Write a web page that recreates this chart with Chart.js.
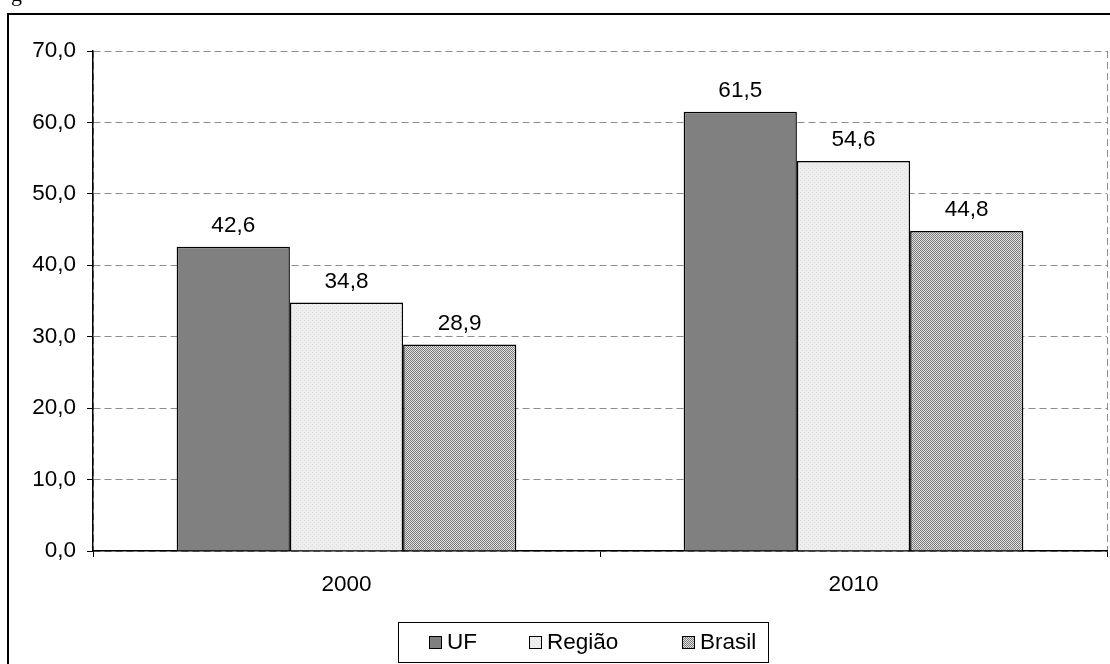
<!DOCTYPE html>
<html>
<head>
<meta charset="utf-8">
<script src="https://cdn.jsdelivr.net/npm/chart.js@4/dist/chart.umd.min.js"></script>
<style>
  html, body { margin: 0; padding: 0; background: #fff; }
  #wrap { position: relative; width: 1110px; height: 664px; }
  canvas { display: block; }
</style>
</head>
<body>
<div id="wrap"><canvas id="c" width="1110" height="664"></canvas></div>
<script>
// Categories and series
const years = ['2000', '2010'];
const seriesNames = ['UF', 'Região', 'Brasil'];
const ufValues = [42.6, 61.5];
const regiaoValues = [34.8, 54.6];
const brasilValues = [28.9, 44.8];
const yMin = 0, yMax = 70, yStep = 10;

const FONT = '"Liberation Sans", Arial, sans-serif';
const FONT_SIZE = 22.5;

function fmt(v) { return v.toFixed(1).replace('.', ','); }

// Fill patterns for the light and hatched series
function makePattern(size, draw) {
  const c = document.createElement('canvas');
  c.width = size; c.height = size;
  const g = c.getContext('2d');
  draw(g);
  return g.createPattern(c, 'repeat');
}
const dotted = makePattern(4, g => {
  g.fillStyle = '#eeeeee'; g.fillRect(0, 0, 4, 4);
  g.fillStyle = '#dcdcdc'; g.fillRect(0, 0, 1, 1); g.fillRect(2, 2, 1, 1);
});
const checked = makePattern(2, g => {
  g.fillStyle = '#e2e2e2'; g.fillRect(0, 0, 2, 2);
  g.fillStyle = '#7a7a7a'; g.fillRect(0, 0, 1, 1); g.fillRect(1, 1, 1, 1);
});
const fills = ['#808080', dotted, checked];

// Outer frame and the clipped caption glyph
const framePlugin = {
  id: 'frame',
  beforeDraw(chart) {
    const g = chart.ctx;
    g.save();
    g.fillStyle = '#fff';
    g.fillRect(0, 0, chart.width, chart.height);
    g.strokeStyle = '#000';
    g.lineWidth = 2;
    g.beginPath();
    g.moveTo(8, chart.height + 2);
    g.lineTo(8, 14);
    g.lineTo(chart.width + 2, 14);
    g.stroke();
    g.fillStyle = '#000';
    g.font = '22px "Liberation Serif", "Times New Roman", serif';
    g.textBaseline = 'alphabetic';
    g.fillText('g', 11, 1);
    g.restore();
  }
};

// Value labels above every bar
const valueLabels = {
  id: 'valueLabels',
  afterDatasetsDraw(chart) {
    const g = chart.ctx;
    g.save();
    g.fillStyle = '#000';
    g.font = FONT_SIZE + 'px ' + FONT;
    g.textAlign = 'center';
    g.textBaseline = 'middle';
    chart.data.datasets.forEach((ds, di) => {
      chart.getDatasetMeta(di).data.forEach((bar, i) => {
        g.fillText(fmt(ds.data[i]), bar.x, bar.y - 21);
      });
    });
    g.restore();
  }
};

// Boxed legend under the axis
const boxLegend = {
  id: 'boxLegend',
  afterDraw(chart) {
    const g = chart.ctx;
    const box = { x: 398.5, y: 622.5, w: 370, h: 40 };
    g.save();
    g.fillStyle = '#fff';
    g.fillRect(box.x, box.y, box.w, box.h);
    g.strokeStyle = '#000';
    g.lineWidth = 1;
    g.strokeRect(box.x, box.y, box.w, box.h);
    const starts = [429, 529, 682];
    const cy = 642;
    g.font = FONT_SIZE + 'px ' + FONT;
    g.textBaseline = 'middle';
    g.textAlign = 'left';
    chart.data.datasets.forEach((ds, i) => {
      const x = starts[i];
      g.fillStyle = ds.backgroundColor;
      g.fillRect(x, cy - 6, 13, 13);
      g.strokeStyle = '#000';
      g.lineWidth = 1;
      g.strokeRect(x + 0.5, cy - 5.5, 12, 12);
      g.fillStyle = '#000';
      g.fillText(ds.label, x + 18, cy + 1);
    });
    g.restore();
  }
};

const datasets = [ufValues, regiaoValues, brasilValues].map((vals, i) => ({
  label: seriesNames[i],
  data: vals,
  backgroundColor: fills[i],
  borderColor: '#000',
  borderWidth: 1.5,
  borderSkipped: 'bottom',
  categoryPercentage: 0.67,
  barPercentage: 1.0
}));

new Chart(document.getElementById('c'), {
  type: 'bar',
  data: { labels: years, datasets },
  plugins: [framePlugin, valueLabels, boxLegend],
  options: {
    responsive: false,
    animation: false,
    layout: { padding: { left: 0, top: 51, right: 3, bottom: 0 } },
    plugins: { legend: { display: false }, tooltip: { enabled: false } },
    scales: {
      x: {
        afterFit(scale) { scale.height = 113; },
        grid: {
          offset: true,
          drawOnChartArea: true,
          color: c => (c.index === 1 ? 'rgba(0,0,0,0)' : '#8c8c8c'),
          lineWidth: 1,
          tickColor: '#000',
          tickLength: 6,
          tickWidth: 1
        },
        border: { display: true, color: '#000', width: 1.5, dash: [7, 4] },
        ticks: { color: '#000', font: { family: FONT, size: FONT_SIZE }, padding: 14 }
      },
      y: {
        min: yMin, max: yMax,
        afterFit(scale) { scale.width = 93; },
        grid: {
          color: '#8c8c8c',
          lineWidth: 1,
          tickColor: '#000',
          tickLength: 6,
          tickWidth: 1,
          tickBorderDash: []
        },
        border: { display: true, color: '#000', width: 1.5, dash: [7, 4] },
        ticks: {
          stepSize: yStep,
          color: '#000',
          font: { family: FONT, size: FONT_SIZE },
          padding: 11,
          callback: v => fmt(v)
        }
      }
    }
  }
});
</script>
</body>
</html>
